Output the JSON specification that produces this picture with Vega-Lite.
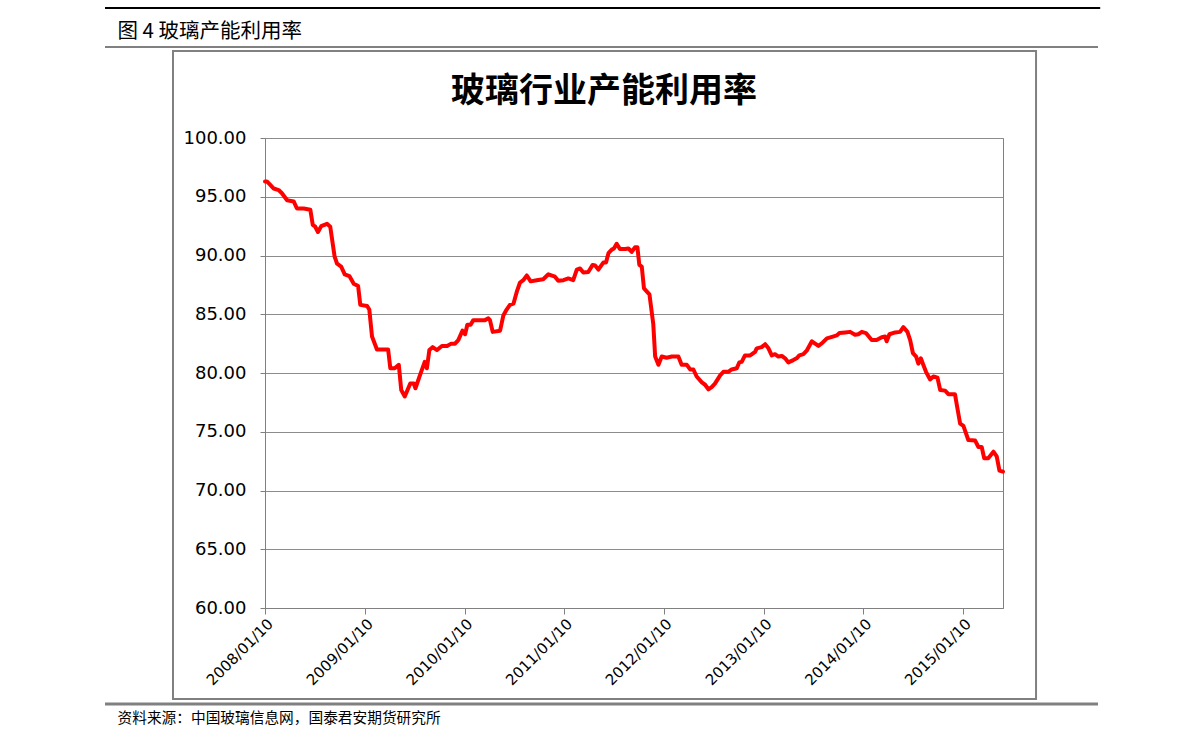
{
  "$schema": "https://vega.github.io/schema/vega-lite/v6.json",
  "autosize": {"type": "none"},
  "padding": {"left": 265, "top": 138, "right": 188, "bottom": 139},
  "width": 738,
  "height": 470,
  "background": "white",
  "title": {"text": "玻璃行业产能利用率", "font": "Noto Sans CJK SC", "fontSize": 34, "fontWeight": "bold", "color": "#000000", "anchor": "middle", "dx": -30, "dy": 102, "offset": 0},
  "config": {
    "view": {"stroke": "#808080", "strokeWidth": 1},
    "axis": {"domainColor": "#808080", "tickColor": "#808080", "gridColor": "#8c8c8c", "labelColor": "#000000", "titleColor": "#000000"}
  },
  "layer": [
    {
      "data": {"values": [{}]},
      "mark": {"type": "rect", "filled": false, "stroke": "#808080", "strokeWidth": 2, "clip": false},
      "encoding": {
        "x": {"datum": {"year": 2007, "month": 2, "date": 7, "utc": true}, "type": "temporal", "scale": {"type": "utc", "domain": [{"year": 2008, "month": 1, "date": 10, "utc": true}, {"year": 2015, "month": 6, "date": 5, "utc": true}]}},
        "x2": {"datum": {"year": 2015, "month": 10, "date": 4, "utc": true}},
        "y": {"datum": 107.4, "type": "quantitative", "scale": {"domain": [60, 100], "zero": false, "nice": false}},
        "y2": {"datum": 52.26}
      }
    },
    {
      "data": {"values": [{}]},
      "mark": {"type": "rule", "stroke": "#000000", "strokeWidth": 2, "clip": false},
      "encoding": {
        "x": {"datum": {"year": 2006, "month": 6, "date": 3, "utc": true}, "type": "temporal"},
        "x2": {"datum": {"year": 2016, "month": 5, "date": 26, "utc": true}},
        "y": {"datum": 111.06, "type": "quantitative"}
      }
    },
    {
      "data": {"values": [{}]},
      "mark": {"type": "rule", "stroke": "#808080", "strokeWidth": 2, "clip": false},
      "encoding": {
        "x": {"datum": {"year": 2006, "month": 6, "date": 3, "utc": true}, "type": "temporal"},
        "x2": {"datum": {"year": 2016, "month": 5, "date": 18, "utc": true}},
        "y": {"datum": 107.74, "type": "quantitative"}
      }
    },
    {
      "data": {"values": [{}]},
      "mark": {"type": "rule", "stroke": "#808080", "strokeWidth": 3, "clip": false},
      "encoding": {
        "x": {"datum": {"year": 2006, "month": 6, "date": 3, "utc": true}, "type": "temporal"},
        "x2": {"datum": {"year": 2016, "month": 5, "date": 18, "utc": true}},
        "y": {"datum": 51.83, "type": "quantitative"}
      }
    },
    {
      "data": {"values": [
        {"date": "2008-01-10", "rate": 96.3}, {"date": "2008-01-17", "rate": 96.3}, {"date": "2008-01-26", "rate": 96.1},
        {"date": "2008-02-11", "rate": 95.7}, {"date": "2008-02-29", "rate": 95.57}, {"date": "2008-03-12", "rate": 95.3},
        {"date": "2008-03-31", "rate": 94.7}, {"date": "2008-04-24", "rate": 94.6}, {"date": "2008-05-06", "rate": 94.0},
        {"date": "2008-05-31", "rate": 94.0}, {"date": "2008-06-24", "rate": 93.9}, {"date": "2008-07-03", "rate": 92.6},
        {"date": "2008-07-12", "rate": 92.45}, {"date": "2008-07-22", "rate": 92.0}, {"date": "2008-08-03", "rate": 92.5},
        {"date": "2008-08-24", "rate": 92.7}, {"date": "2008-09-05", "rate": 92.45}, {"date": "2008-09-21", "rate": 89.9},
        {"date": "2008-09-30", "rate": 89.3}, {"date": "2008-10-15", "rate": 89.05}, {"date": "2008-10-28", "rate": 88.4},
        {"date": "2008-11-14", "rate": 88.25}, {"date": "2008-11-30", "rate": 87.6}, {"date": "2008-12-16", "rate": 87.4},
        {"date": "2008-12-24", "rate": 85.8}, {"date": "2009-01-18", "rate": 85.7}, {"date": "2009-01-26", "rate": 85.4},
        {"date": "2009-02-05", "rate": 83.1}, {"date": "2009-02-23", "rate": 82.0}, {"date": "2009-04-05", "rate": 82.0},
        {"date": "2009-04-13", "rate": 80.4}, {"date": "2009-04-29", "rate": 80.4}, {"date": "2009-05-14", "rate": 80.7},
        {"date": "2009-05-23", "rate": 78.55}, {"date": "2009-06-05", "rate": 78.0}, {"date": "2009-06-25", "rate": 79.1},
        {"date": "2009-07-08", "rate": 79.1}, {"date": "2009-07-14", "rate": 78.7}, {"date": "2009-08-01", "rate": 79.9},
        {"date": "2009-08-17", "rate": 80.95}, {"date": "2009-08-25", "rate": 80.4}, {"date": "2009-09-03", "rate": 81.95},
        {"date": "2009-09-15", "rate": 82.2}, {"date": "2009-10-01", "rate": 81.95}, {"date": "2009-10-19", "rate": 82.3},
        {"date": "2009-11-07", "rate": 82.3}, {"date": "2009-11-22", "rate": 82.5}, {"date": "2009-12-06", "rate": 82.5},
        {"date": "2009-12-18", "rate": 82.8}, {"date": "2010-01-02", "rate": 83.6}, {"date": "2010-01-12", "rate": 83.3},
        {"date": "2010-01-20", "rate": 84.1}, {"date": "2010-02-01", "rate": 84.1}, {"date": "2010-02-11", "rate": 84.5},
        {"date": "2010-03-26", "rate": 84.5}, {"date": "2010-04-07", "rate": 84.65}, {"date": "2010-04-13", "rate": 84.5},
        {"date": "2010-04-23", "rate": 83.5}, {"date": "2010-05-20", "rate": 83.6}, {"date": "2010-06-01", "rate": 84.9},
        {"date": "2010-06-13", "rate": 85.4}, {"date": "2010-06-25", "rate": 85.8}, {"date": "2010-07-08", "rate": 85.9},
        {"date": "2010-07-20", "rate": 86.9}, {"date": "2010-08-01", "rate": 87.7}, {"date": "2010-08-13", "rate": 87.9},
        {"date": "2010-08-26", "rate": 88.3}, {"date": "2010-09-09", "rate": 87.8}, {"date": "2010-10-01", "rate": 87.9},
        {"date": "2010-10-25", "rate": 87.98}, {"date": "2010-11-13", "rate": 88.4}, {"date": "2010-12-07", "rate": 88.2},
        {"date": "2010-12-19", "rate": 87.85}, {"date": "2011-01-07", "rate": 87.9}, {"date": "2011-01-25", "rate": 88.05},
        {"date": "2011-02-12", "rate": 87.9}, {"date": "2011-02-25", "rate": 88.8}, {"date": "2011-03-09", "rate": 88.9},
        {"date": "2011-03-21", "rate": 88.55}, {"date": "2011-04-08", "rate": 88.6}, {"date": "2011-04-24", "rate": 89.2},
        {"date": "2011-05-03", "rate": 89.15}, {"date": "2011-05-15", "rate": 88.8}, {"date": "2011-06-02", "rate": 89.4},
        {"date": "2011-06-12", "rate": 89.4}, {"date": "2011-06-21", "rate": 90.2}, {"date": "2011-07-03", "rate": 90.5},
        {"date": "2011-07-11", "rate": 90.6}, {"date": "2011-07-21", "rate": 91.0}, {"date": "2011-08-02", "rate": 90.55},
        {"date": "2011-08-21", "rate": 90.55}, {"date": "2011-09-02", "rate": 90.6}, {"date": "2011-09-14", "rate": 90.3},
        {"date": "2011-09-26", "rate": 90.7}, {"date": "2011-10-05", "rate": 90.7}, {"date": "2011-10-12", "rate": 89.2},
        {"date": "2011-10-21", "rate": 89.05}, {"date": "2011-10-29", "rate": 87.2}, {"date": "2011-11-18", "rate": 86.7},
        {"date": "2011-12-02", "rate": 84.2}, {"date": "2011-12-09", "rate": 81.4}, {"date": "2011-12-21", "rate": 80.7},
        {"date": "2012-01-02", "rate": 81.4}, {"date": "2012-01-20", "rate": 81.3}, {"date": "2012-02-08", "rate": 81.4},
        {"date": "2012-03-03", "rate": 81.4}, {"date": "2012-03-15", "rate": 80.7}, {"date": "2012-04-03", "rate": 80.7},
        {"date": "2012-04-15", "rate": 80.3}, {"date": "2012-04-27", "rate": 80.3}, {"date": "2012-05-09", "rate": 79.7},
        {"date": "2012-05-28", "rate": 79.2}, {"date": "2012-06-09", "rate": 79.0}, {"date": "2012-06-21", "rate": 78.6},
        {"date": "2012-07-03", "rate": 78.8}, {"date": "2012-07-15", "rate": 79.1}, {"date": "2012-08-03", "rate": 79.8},
        {"date": "2012-08-15", "rate": 80.1}, {"date": "2012-09-02", "rate": 80.1}, {"date": "2012-09-14", "rate": 80.3},
        {"date": "2012-10-03", "rate": 80.4}, {"date": "2012-10-12", "rate": 80.9}, {"date": "2012-10-21", "rate": 80.95},
        {"date": "2012-11-02", "rate": 81.5}, {"date": "2012-11-21", "rate": 81.5}, {"date": "2012-12-09", "rate": 81.8},
        {"date": "2012-12-15", "rate": 82.1}, {"date": "2013-01-02", "rate": 82.2}, {"date": "2013-01-15", "rate": 82.45},
        {"date": "2013-01-27", "rate": 82.1}, {"date": "2013-02-08", "rate": 81.5}, {"date": "2013-02-20", "rate": 81.6},
        {"date": "2013-03-04", "rate": 81.4}, {"date": "2013-03-17", "rate": 81.45}, {"date": "2013-03-29", "rate": 81.25},
        {"date": "2013-04-10", "rate": 80.9}, {"date": "2013-04-28", "rate": 81.1}, {"date": "2013-05-10", "rate": 81.25},
        {"date": "2013-05-20", "rate": 81.5}, {"date": "2013-06-04", "rate": 81.6}, {"date": "2013-06-16", "rate": 81.9},
        {"date": "2013-07-05", "rate": 82.7}, {"date": "2013-07-17", "rate": 82.5}, {"date": "2013-07-29", "rate": 82.3},
        {"date": "2013-08-14", "rate": 82.6}, {"date": "2013-08-29", "rate": 82.95}, {"date": "2013-09-20", "rate": 83.1},
        {"date": "2013-10-04", "rate": 83.2}, {"date": "2013-10-14", "rate": 83.4}, {"date": "2013-11-04", "rate": 83.45},
        {"date": "2013-11-22", "rate": 83.5}, {"date": "2013-12-10", "rate": 83.25}, {"date": "2013-12-22", "rate": 83.3},
        {"date": "2014-01-04", "rate": 83.5}, {"date": "2014-01-19", "rate": 83.4}, {"date": "2014-02-09", "rate": 82.8},
        {"date": "2014-02-27", "rate": 82.8}, {"date": "2014-03-18", "rate": 83.05}, {"date": "2014-03-30", "rate": 83.1},
        {"date": "2014-04-05", "rate": 82.7}, {"date": "2014-04-15", "rate": 83.3}, {"date": "2014-05-06", "rate": 83.45},
        {"date": "2014-05-24", "rate": 83.5}, {"date": "2014-06-05", "rate": 83.9}, {"date": "2014-06-20", "rate": 83.5},
        {"date": "2014-06-30", "rate": 82.8}, {"date": "2014-07-10", "rate": 81.7}, {"date": "2014-07-22", "rate": 81.4},
        {"date": "2014-07-30", "rate": 80.8}, {"date": "2014-08-08", "rate": 81.25}, {"date": "2014-08-17", "rate": 80.7},
        {"date": "2014-08-27", "rate": 80.1}, {"date": "2014-09-11", "rate": 79.45}, {"date": "2014-09-23", "rate": 79.7},
        {"date": "2014-10-08", "rate": 79.6}, {"date": "2014-10-18", "rate": 78.55}, {"date": "2014-11-05", "rate": 78.5},
        {"date": "2014-11-17", "rate": 78.2}, {"date": "2014-12-11", "rate": 78.2}, {"date": "2014-12-20", "rate": 77.0},
        {"date": "2014-12-30", "rate": 75.7}, {"date": "2015-01-11", "rate": 75.5}, {"date": "2015-01-29", "rate": 74.3},
        {"date": "2015-02-23", "rate": 74.25}, {"date": "2015-03-07", "rate": 73.7}, {"date": "2015-03-19", "rate": 73.7},
        {"date": "2015-03-28", "rate": 72.75}, {"date": "2015-04-12", "rate": 72.75}, {"date": "2015-05-01", "rate": 73.3},
        {"date": "2015-05-13", "rate": 72.9}, {"date": "2015-05-23", "rate": 71.7}, {"date": "2015-06-05", "rate": 71.6}
      ]},
      "mark": {"type": "line", "stroke": "#ff0000", "strokeWidth": 4, "strokeJoin": "round", "strokeCap": "round"},
      "encoding": {
        "x": {
          "field": "date", "type": "temporal",
          "scale": {"type": "utc", "domain": [{"year": 2008, "month": 1, "date": 10, "utc": true}, {"year": 2015, "month": 6, "date": 5, "utc": true}]},
          "axis": {
            "values": [
              {"year": 2008, "month": 1, "date": 10, "utc": true}, {"year": 2009, "month": 1, "date": 10, "utc": true},
              {"year": 2010, "month": 1, "date": 10, "utc": true}, {"year": 2011, "month": 1, "date": 10, "utc": true},
              {"year": 2012, "month": 1, "date": 10, "utc": true}, {"year": 2013, "month": 1, "date": 10, "utc": true},
              {"year": 2014, "month": 1, "date": 10, "utc": true}, {"year": 2015, "month": 1, "date": 10, "utc": true}
            ],
            "format": "%Y/%m/%d", "labelAngle": -45, "labelFont": "DejaVu Sans", "labelFontSize": 15, "labelPadding": 2,
            "tickSize": 6, "grid": false, "labelOverlap": false, "labelFlush": false,
            "title": "资料来源：中国玻璃信息网，国泰君安期货研究所", "titleX": -148, "titleY": 110, "titleAlign": "left", "titleBaseline": "middle",
            "titleFont": "Noto Sans CJK SC", "titleFontSize": 14.7, "titleFontWeight": "normal"
          }
        },
        "y": {
          "field": "rate", "type": "quantitative",
          "scale": {"domain": [60, 100], "zero": false, "nice": false},
          "axis": {
            "values": [60, 65, 70, 75, 80, 85, 90, 95, 100], "format": ".2f", "labelFont": "DejaVu Sans", "labelFontSize": 18,
            "labelPadding": 14, "tickSize": 5, "grid": true, "labelOverlap": false, "labelFlush": false,
            "title": "图 4 玻璃产能利用率", "titleAngle": 0, "titleX": -148, "titleY": -107, "titleAlign": "left", "titleBaseline": "middle",
            "titleFont": "Noto Sans CJK SC", "titleFontSize": 20.5, "titleFontWeight": "normal"
          }
        }
      }
    }
  ]
}
